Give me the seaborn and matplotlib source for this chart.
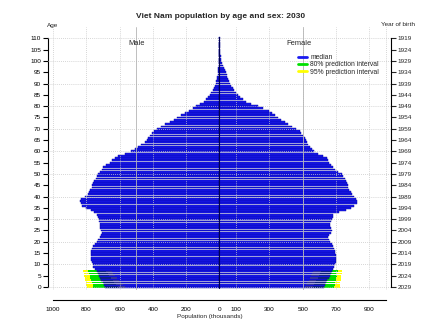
import numpy as np
import pandas as pd
import matplotlib
matplotlib.use("Agg")
import matplotlib.pyplot as plt
from matplotlib.lines import Line2D
import seaborn as sns

# Single-year ages 0..110
ages = list(range(0, 111))

# Median projection, thousands
male = [688, 695, 702, 710, 717, 724, 731, 738, 748, 758,
        762, 768, 771, 774, 774, 772, 770, 766, 758, 748,
        738, 728, 718, 712, 708, 710, 716, 718, 720, 722,
        726, 730, 738, 752, 770, 800, 826, 834, 838, 830,
        810, 790, 782, 776, 768, 764, 758, 752, 744, 736,
        728, 715, 705, 698, 680, 660, 646, 630, 610, 570,
        530, 508, 490, 470, 450, 438, 430, 420, 405, 392,
        378, 350, 325, 300, 275, 255, 230, 205, 185, 160,
        140, 115, 95, 80, 68, 58, 50, 42, 35, 29,
        24, 20, 17, 14, 12, 10, 8, 7, 6, 5,
        4, 3, 3, 2, 2, 2, 1, 1, 1, 1, 1]
female = [628, 635, 642, 648, 655, 662, 668, 674, 684, 690,
          694, 697, 700, 700, 698, 696, 694, 688, 682, 674,
          666, 658, 654, 658, 668, 674, 670, 664, 666, 670,
          674, 680, 684, 720, 760, 790, 810, 824, 824, 818,
          805, 795, 788, 780, 774, 770, 766, 762, 752, 742,
          734, 712, 695, 684, 670, 660, 654, 646, 620, 590,
          566, 556, 545, 534, 525, 518, 512, 500, 490, 482,
          462, 438, 414, 395, 372, 354, 335, 318, 300, 262,
          230, 190, 158, 140, 125, 112, 100, 90, 80, 72,
          66, 60, 54, 48, 43, 38, 32, 26, 21, 16,
          12, 9, 7, 5, 4, 3, 2, 2, 1, 1, 1]

# Prediction intervals for the cohorts not yet born (ages 0..7)
pi_ages = [0, 1, 2, 3, 4, 5, 6, 7]
male_lo95 = [568, 580, 592, 604, 616, 626, 638, 648]
male_lo80 = [612, 622, 632, 642, 652, 662, 672, 682]
male_hi80 = [758, 762, 767, 771, 776, 780, 784, 788]
male_hi95 = [798, 801, 804, 807, 810, 813, 816, 818]
female_lo95 = [514, 521, 528, 535, 543, 550, 557, 564]
female_lo80 = [560, 567, 574, 581, 589, 596, 603, 610]
female_hi80 = [688, 691, 694, 697, 700, 704, 707, 710]
female_hi95 = [722, 724, 726, 728, 730, 732, 734, 736]

x_ticks = list(range(-1000, 1001, 100))
x_labels = ["1000", "", "800", "", "600", "", "400", "", "200", "", "0",
            "100", "", "300", "", "500", "", "700", "", "900", ""]
age_ticks = list(range(0, 111, 5))
birth_labels = [str(2029 - a) for a in age_ticks]
grid_x = [-1000, -800, -600, -400, -200, 100, 300, 500, 700, 900, 1000]
grid_y = list(range(0, 111, 10))

BLUE = "#1a1af0"
EDGE = "#00009a"
GREEN = "#00e000"
YELLOW = "#ffff00"

sns.set_style("white")
plt.rcParams["font.family"] = ["Liberation Sans", "DejaVu Sans"]

fig = plt.figure(figsize=(4.27, 3.2), dpi=100)
ax = fig.add_axes([48 / 427, (320 - 290.4) / 320, (391 - 48) / 427, (290.4 - 27) / 320])

pop = pd.DataFrame({"age": ages, "male": [-v for v in male], "female": female})
pi = pd.DataFrame({
    "age": pi_ages,
    "m_hi95": [-v for v in male_hi95], "m_hi80": [-v for v in male_hi80],
    "f_hi95": female_hi95, "f_hi80": female_hi80,
})

bar_kw = dict(orient="y", native_scale=True, errorbar=None, width=0.8, ax=ax)

# 95% and 80% intervals underneath the median bars
sns.barplot(data=pi, x="m_hi95", y="age", color=YELLOW, saturation=1, linewidth=0, **bar_kw)
sns.barplot(data=pi, x="f_hi95", y="age", color=YELLOW, saturation=1, linewidth=0, **bar_kw)
sns.barplot(data=pi, x="m_hi80", y="age", color=GREEN, saturation=1, linewidth=0, **bar_kw)
sns.barplot(data=pi, x="f_hi80", y="age", color=GREEN, saturation=1, linewidth=0, **bar_kw)

# Median bars
sns.barplot(data=pop, x="male", y="age", color=BLUE, saturation=1,
            edgecolor=EDGE, linewidth=0.3, **bar_kw)
sns.barplot(data=pop, x="female", y="age", color=BLUE, saturation=1,
            edgecolor=EDGE, linewidth=0.3, **bar_kw)

# Lower parts of the intervals darken the median bars
m_med = np.array(male[:8]); f_med = np.array(female[:8])
for lo95, lo80, med, sign in [(np.array(male_lo95), np.array(male_lo80), m_med, -1),
                              (np.array(female_lo95), np.array(female_lo80), f_med, 1)]:
    ax.barh(pi_ages, sign * (lo80 - lo95), left=sign * lo95, height=0.55,
            color="#505068", alpha=0.55, linewidth=0, zorder=3)
    ax.barh(pi_ages, sign * (med - lo80), left=sign * lo80, height=0.55,
            color="#0c2c58", alpha=0.65, linewidth=0, zorder=3)

ax.set_xlim(-1030, 1030)
ax.set_ylim(-1.5, 115)

# Reference lines drawn over the bars
for gx in grid_x:
    ax.axvline(gx, color="#c8c8c8", lw=0.6, ls=(0, (1, 1.5)), zorder=4)
for gy in grid_y:
    ax.axhline(gy, color="#c8c8c8", lw=0.6, ls=(0, (1, 1.5)), zorder=4)
for gx in (-500, 500):
    ax.axvline(gx, color="#b4b4b4", lw=0.6, zorder=4)
ax.plot([0, 0], [-0.5, 110.5], color="#000050", lw=0.8, zorder=5)

# Axes in base-R style
ax.spines["top"].set_visible(False)
ax.spines["right"].set_visible(False)
ax.spines["bottom"].set_position(("outward", 6.9))
ax.spines["bottom"].set_bounds(-1000, 1000)
ax.spines["left"].set_bounds(0, 110)
for s in ("bottom", "left"):
    ax.spines[s].set_linewidth(0.8)
    ax.spines[s].set_color("black")

ax.set_xticks(x_ticks)
ax.set_xticklabels(x_labels)
ax.set_yticks(age_ticks)
ax.set_yticklabels([str(a) for a in age_ticks])
ax.tick_params(axis="both", direction="out", length=3.5, width=0.8, labelsize=4.6,
               pad=1.5, colors="black")
ax.set_xlabel("")
ax.set_ylabel("")

ax2 = ax.twinx()
ax2.set_ylim(ax.get_ylim())
ax2.set_yticks(age_ticks)
ax2.set_yticklabels(birth_labels)
for s in ("top", "bottom", "left"):
    ax2.spines[s].set_visible(False)
ax2.spines["right"].set_bounds(0, 110)
ax2.spines["right"].set_linewidth(0.8)
ax2.spines["right"].set_color("black")
ax2.tick_params(axis="y", direction="out", length=3.5, width=0.8, labelsize=4.6, pad=1.5)
ax2.set_ylabel("")

fig.text(221 / 427, 1 - 17 / 320, "Viet Nam population by age and sex: 2030",
         ha="center", va="center", fontsize=6.0, fontweight="bold")
fig.text(53 / 427, 1 - 26 / 320, "Age", ha="center", va="center", fontsize=4.6)
fig.text(398 / 427, 1 - 25 / 320, "Year of birth", ha="center", va="center", fontsize=4.6)
ax.text(-496, 107.8, "Male", ha="center", va="center", fontsize=5.4, zorder=6)
ax.text(476, 107.8, "Female", ha="center", va="center", fontsize=5.4, zorder=6)
fig.text(210 / 427, 1 - 314 / 320, "Population (thousands)", ha="center", va="top", fontsize=4.6)

handles = [Line2D([], [], color=BLUE, lw=2.0),
           Line2D([], [], color=GREEN, lw=2.0),
           Line2D([], [], color=YELLOW, lw=2.0)]
leg = fig.legend(handles, ["median", "80% prediction interval", "95% prediction interval"],
                 loc="upper left", bbox_to_anchor=(298 / 427, 1 - 54 / 320),
                 frameon=False, fontsize=4.9, handlelength=1.3, handletextpad=0.5,
                 labelspacing=0.05, borderaxespad=0, borderpad=0)

fig.savefig("out.png", dpi=100)
